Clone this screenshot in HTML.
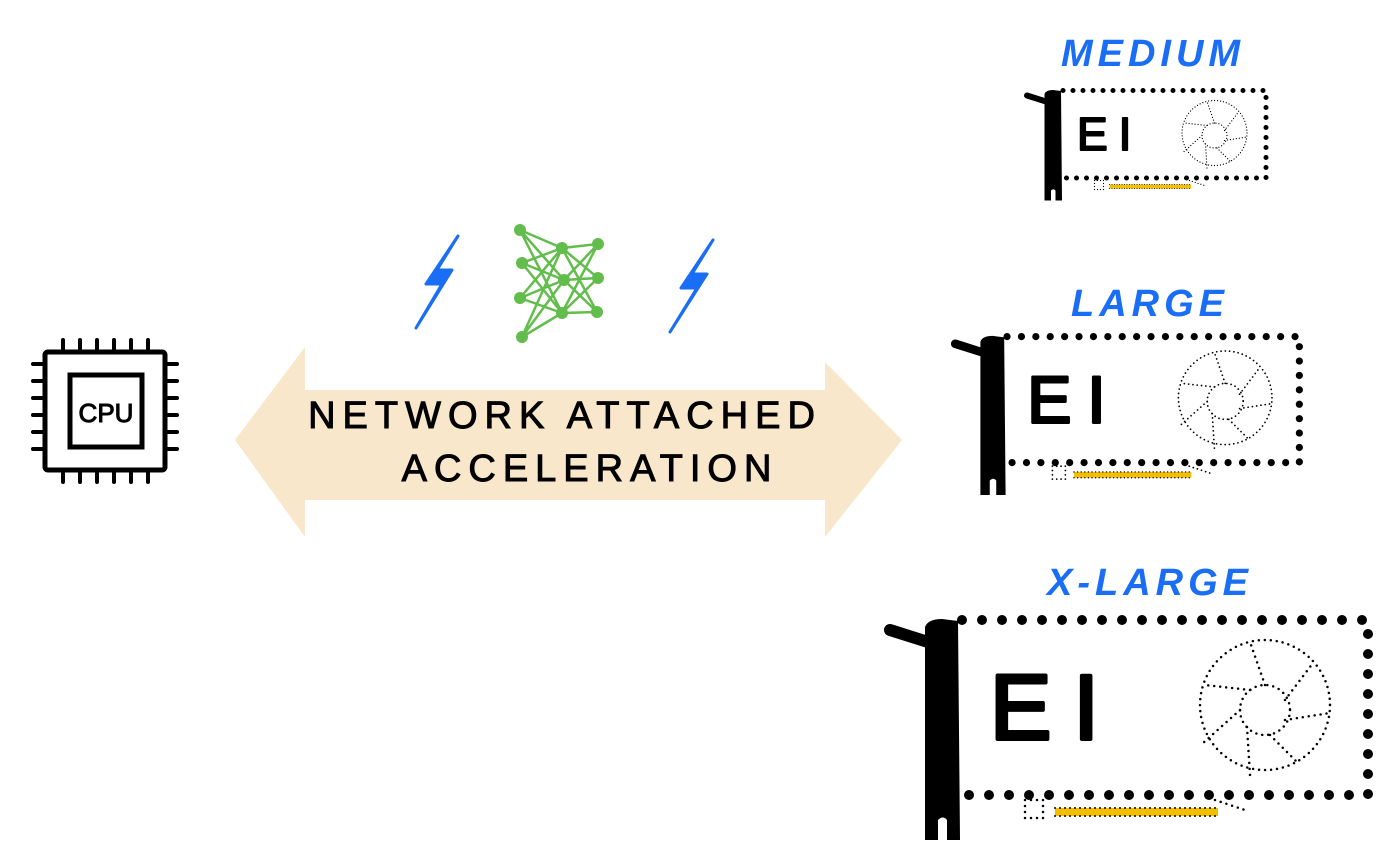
<!DOCTYPE html>
<html><head><style>body{margin:0;background:#fff}svg{display:block}</style></head><body>
<svg width="1400" height="860" viewBox="0 0 1400 860" xmlns="http://www.w3.org/2000/svg">
<defs>
<g id="card">
  <line x1="10" y1="15" x2="48" y2="27" stroke="#000" stroke-width="12" stroke-linecap="round"/>
  <path d="M45 12 Q48 4 62 4 L78 6 L80 225 L67 225 L67 205 Q63 200 58 205 L58 225 L45 225 Z" fill="#000"/>
  <path d="M82 5 H488 V180 H82" fill="none" stroke="#000" stroke-width="10" stroke-linecap="round" stroke-dasharray="0 20"/>
  <text x="110" y="124" font-family="Liberation Sans, sans-serif" font-size="92" letter-spacing="22" fill="#000" stroke="#000" stroke-width="4" stroke-linejoin="round">EI</text>
  <g fill="none" stroke="#000" stroke-width="2.5" stroke-linecap="round" stroke-dasharray="0 6">
    <circle cx="385" cy="90" r="65"/>
    <circle cx="385" cy="95" r="25"/>
    <line x1="385" y1="70" x2="370" y2="27"/>
    <line x1="405" y1="85" x2="433" y2="48"/>
    <line x1="405" y1="105" x2="450" y2="98"/>
    <line x1="390" y1="120" x2="418" y2="148"/>
    <line x1="367" y1="112" x2="370" y2="160"/>
    <line x1="360" y1="95" x2="323" y2="128"/>
    <line x1="370" y1="75" x2="325" y2="70"/>
  </g>
  <rect x="145" y="185" width="18" height="18" fill="none" stroke="#000" stroke-width="2.5" stroke-dasharray="0 6" stroke-linecap="round"/>
  <rect x="175" y="193" width="163" height="8" fill="#f2bf00"/>
  <line x1="175" y1="193" x2="338" y2="193" stroke="#000" stroke-width="2" stroke-dasharray="0 5" stroke-linecap="round"/>
  <line x1="175" y1="201" x2="338" y2="201" stroke="#000" stroke-width="2" stroke-dasharray="0 5" stroke-linecap="round"/>
  <path d="M335 185 L350 190 L365 195" fill="none" stroke="#000" stroke-width="2.5" stroke-dasharray="0 6" stroke-linecap="round"/>
</g>
</defs>

<g font-family="Liberation Sans, sans-serif" font-weight="bold" font-style="italic" fill="#1a6ef5" font-size="38" text-anchor="middle" letter-spacing="5">
  <text x="1153" y="66">MEDIUM</text>
  <text x="1150" y="316">LARGE</text>
  <text x="1150" y="595">X-LARGE</text>
</g>

<use href="#card" transform="translate(1022,88) scale(0.5)"/>
<use href="#card" transform="translate(948,333) scale(0.72)"/>
<use href="#card" transform="translate(880,615)"/>

<polygon points="235,440 305,347 305,390 825,390 825,362 902,440 825,537 825,500 305,500 305,537" fill="#f8e7ca"/>
<g font-family="Liberation Sans, sans-serif" font-size="38" fill="#000" stroke="#000" stroke-width="1" text-anchor="middle" letter-spacing="7">
  <text x="565" y="428">NETWORK ATTACHED</text>
  <text x="590" y="481">ACCELERATION</text>
</g>

<g stroke="#000" stroke-width="5" fill="none">
  <rect x="45" y="352" width="120" height="118" rx="3"/>
  <rect x="70" y="375" width="72" height="72"/>
  <g stroke-width="4" stroke-linecap="round">
    <path d="M63 340v12M80 340v12M97 340v12M114 340v12M131 340v12M148 340v12"/>
    <path d="M63 470v12M80 470v12M97 470v12M114 470v12M131 470v12M148 470v12"/>
    <path d="M33 364h12M33 381h12M33 398h12M33 415h12M33 432h12M33 449h12"/>
    <path d="M165 364h12M165 381h12M165 398h12M165 415h12M165 432h12M165 449h12"/>
  </g>
</g>
<text x="106" y="422" font-family="Liberation Sans, sans-serif" font-size="26" text-anchor="middle" fill="#000" stroke="#000" stroke-width="1">CPU</text>

<g fill="#1a6ef5" stroke="#1a6ef5" stroke-width="3" stroke-linejoin="round">
  <polygon points="458,236 426,284 442,284 416,328 452,270 437,270"/>
  <polygon points="713,240 681,288 697,288 670,332 707,274 692,274"/>
</g>

<g stroke="#62bd4c" stroke-width="2.5">
  <path d="M520,230L562,248M520,230L564,280M520,230L562,313M522,263L562,248M522,263L564,280M522,263L562,313M520,298L562,248M520,298L564,280M520,298L562,313M522,337L562,248M522,337L564,280M522,337L562,313"/>
  <path d="M562,248L598,244M562,248L598,278M562,248L597,312M564,280L598,244M564,280L598,278M564,280L597,312M562,313L598,244M562,313L598,278M562,313L597,312"/>
</g>
<g fill="#62bd4c">
  <circle cx="520" cy="230" r="6"/><circle cx="522" cy="263" r="6"/><circle cx="520" cy="298" r="6"/><circle cx="522" cy="337" r="6"/>
  <circle cx="562" cy="248" r="6"/><circle cx="564" cy="280" r="6"/><circle cx="562" cy="313" r="6"/>
  <circle cx="598" cy="244" r="6"/><circle cx="598" cy="278" r="6"/><circle cx="597" cy="312" r="6"/>
</g>
</svg>
</body></html>
